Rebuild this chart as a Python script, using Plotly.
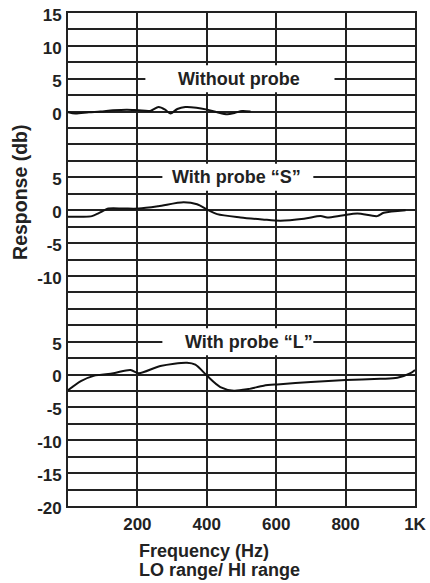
import numpy as np
import plotly.graph_objects as go

# ---------------- data ----------------
freq_without = [0, 21, 60, 93, 130, 170, 203, 237, 261, 280, 295, 315, 338, 370, 401, 430, 459, 480, 502, 526]
db_without = [-0.1, -0.3, -0.1, 0.0, 0.2, 0.3, 0.2, 0.1, 0.7, 0.3, -0.3, 0.4, 0.7, 0.6, 0.3, -0.1, -0.4, -0.2, 0.1, 0.0]

freq_s = [0, 40, 69, 90, 117, 160, 204, 260, 333, 372, 401, 430, 497, 560, 612, 680, 728, 747, 790, 834, 891, 910, 973]
db_s = [-1.0, -1.0, -0.9, -0.4, 0.25, 0.25, 0.25, 0.6, 1.2, 0.9, 0.1, -0.6, -1.1, -1.4, -1.6, -1.3, -0.9, -1.1, -0.8, -0.5, -0.9, -0.4, 0.0]

freq_l = [0, 37, 74, 131, 180, 204, 266, 343, 367, 401, 439, 478, 520, 564, 603, 700, 800, 900, 949, 987, 1000]
db_l = [-2.4, -1.0, -0.2, 0.2, 0.7, 0.2, 1.3, 1.8, 1.5, -0.2, -1.9, -2.45, -2.2, -1.7, -1.5, -1.15, -0.85, -0.65, -0.5, 0.2, 0.7]

panel_names = ["Without probe", "With probe \u201cS\u201d", "With probe \u201cL\u201d"]
top_tick_labels = [15, 10, 5, 0]
mid_tick_labels = [5, 0, -5, -10]
bot_tick_labels = [5, 0, -5, -10, -15, -20]
x_tick_vals = [200, 400, 600, 800, 1000]
x_tick_text = ["200", "400", "600", "800", "1K"]

# ---------------- layout helpers ----------------
TOP_OFF, MID_OFF, BOT_OFF = 40, 25, 0   # stacked panels on one shared axis
GRID = "#222222"
FONT = "Liberation Sans, Arial, sans-serif"

tickvals = list(np.arange(-20, 55.01, 2.5))
label_map = {}
for off, labs in ((TOP_OFF, top_tick_labels), (MID_OFF, mid_tick_labels), (BOT_OFF, bot_tick_labels)):
    for v in labs:
        label_map[round(v + off, 2)] = str(v)
ticktext = ["<b>%s</b>" % label_map.get(round(float(v), 2), "") for v in tickvals]

fig = go.Figure()
for fx, fy, off in ((freq_without, db_without, TOP_OFF), (freq_s, db_s, MID_OFF), (freq_l, db_l, BOT_OFF)):
    fig.add_trace(go.Scatter(
        x=fx, y=[v + off for v in fy], mode="lines",
        line=dict(color="#111111", width=2, shape="spline", smoothing=0.8),
        hoverinfo="skip", showlegend=False))

# white label boxes that interrupt the grid
boxes = [(223, 768, TOP_OFF + 5), (272, 707, MID_OFF + 5), (272, 707, BOT_OFF + 5)]
label_x = [493, 487, 521]
for (x0, x1, yc), name, lx in zip(boxes, panel_names, label_x):
    fig.add_shape(type="rect", xref="x", yref="y", x0=x0, x1=x1, y0=yc - 2.05, y1=yc + 2.05,
                  fillcolor="white", line=dict(width=0), layer="between")
    fig.add_annotation(x=lx, y=yc, xref="x", yref="y", text="<b>%s</b>" % name, showarrow=False,
                       font=dict(family=FONT, size=18, color="#222222"))

fig.add_annotation(xref="paper", yref="paper", x=0, y=0.635, xanchor="center", yanchor="middle",
                   xshift=-48, text="<b>Response (db)</b>",
                   textangle=-90, showarrow=False, font=dict(family=FONT, size=19.5, color="#222222"))
fig.add_annotation(xref="x", yref="paper", x=200, y=0, xanchor="left", yanchor="middle", yshift=-45,
                   text="<b>Frequency (Hz)</b>", showarrow=False, font=dict(family=FONT, size=18, color="#222222"))
fig.add_annotation(xref="x", yref="paper", x=200, y=0, xanchor="left", yanchor="middle", yshift=-64,
                   text="<b>LO range/ HI range</b>", showarrow=False, font=dict(family=FONT, size=18, color="#222222"))

fig.update_xaxes(range=[0, 1000], tickvals=x_tick_vals, ticktext=["<b>%s</b>" % t for t in x_tick_text],
                 showgrid=True, gridcolor=GRID, gridwidth=1.7, zeroline=False, automargin=False,
                 showline=True, linecolor=GRID, linewidth=1.7, mirror=True, ticks="", tickangle=0,
                 ticklabelstandoff=2, tickfont=dict(family=FONT, size=17, color="#222222"))
fig.update_yaxes(range=[-20, 55], tickvals=tickvals, ticktext=ticktext, automargin=False,
                 showgrid=True, gridcolor=GRID, gridwidth=1.7, zeroline=False,
                 showline=True, linecolor=GRID, linewidth=1.7, mirror=True, ticks="",
                 ticklabelstandoff=1, ticklabelshift=2, tickfont=dict(family=FONT, size=17, color="#222222"))

fig.update_layout(width=430, height=583, margin=dict(l=68, r=15, t=13, b=77),
                  paper_bgcolor="white", plot_bgcolor="white", showlegend=False)

fig.write_html("out.html")
